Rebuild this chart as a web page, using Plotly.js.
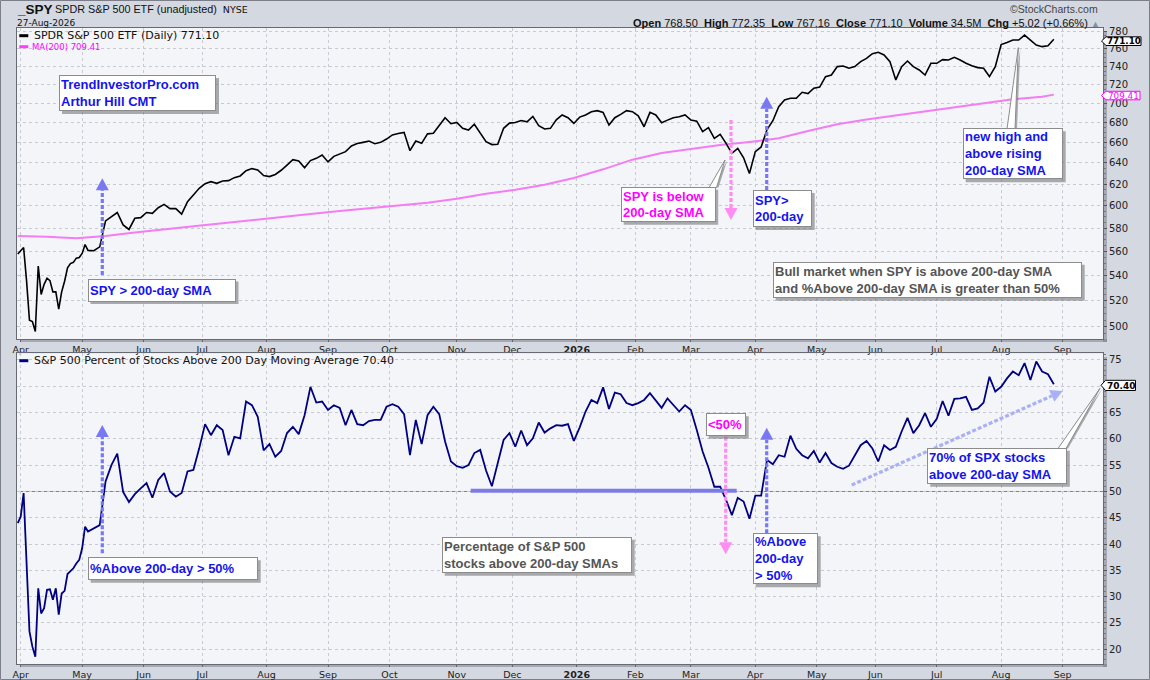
<!DOCTYPE html>
<html><head><meta charset="utf-8">
<script src="https://cdn.plot.ly/plotly-3.0.1.min.js"></script>
<style>html,body{margin:0;padding:0;background:#d4d8e1;}#chart{width:1150px;height:680px;}</style>
</head><body><div id="chart"></div>
<script>
// ================= DATA =================
const calendarStart = '2025-03-31';
const calendarEnd = '2026-09-30';
const lastDate = '2026-08-27';
const marketHolidays = ['2025-04-18','2025-05-26','2025-06-19','2025-07-04','2025-09-01','2025-11-27','2025-12-25',
  '2026-01-01','2026-01-19','2026-02-16','2026-04-03','2026-05-25','2026-06-19','2026-07-03','2026-09-07'];
const dailyReadDays = 24;   // first 24 sessions read daily, then every 2nd session
const maReadStep = 10;      // MA(200) read every 10th session

const monthLabels = ['Apr','May','Jun','Jul','Aug','Sep','Oct','Nov','Dec','<b>2026</b>','Feb','Mar','Apr','May','Jun','Jul','Aug','Sep'];
const priceTicks = [500,520,540,560,580,600,620,640,660,680,700,720,740,760,780];
const pctTicks = [20,25,30,35,40,45,50,55,60,65,70,75];
const pctTickText = ['20','25','30','35','40','45','50','55','60','65','','75']; // 70 sits under the 70.40 value tag

const spyClose = [
  558, 561, 563.5, 536, 505, 504, 496.5, 548, 525, 533, 538, 536, 527, 527, 513.5, 527, 535.5, 546.5, 550, 551, 554.5, 555, 558.5, 566,
  561, 560.7, 564, 586.5, 590, 594, 583, 579, 588.8, 589.4, 594, 593.2, 598.3, 601.3, 597.5, 597.5, 592.5, 603.7, 609.8, 616, 620.3,
  622.2, 620.7, 622.8, 623.2, 626, 627.6, 632.6, 634.6, 633.3, 628, 627, 629, 633, 638, 643.2, 642, 635.5, 642.3, 644.5, 647.7, 641,
  646.4, 648.4, 651, 656.6, 659, 660.2, 661.5, 658.9, 660.2,
  663.5, 667.6, 669, 670.2, 652, 661.5, 659.2, 668.7, 669.4, 677.7, 685.2, 679, 680.3, 674.4, 672.6, 678.4, 669.4, 660.9, 658, 658.3,
  674.3, 679.6, 680.3, 682.3, 681, 686.5, 677, 673.6, 674.3, 683, 688, 685.2, 679.3, 685.8, 688, 691.4, 692.5, 690.7, 677.7, 685.2,
  688.6, 692.5, 691.4, 687.2, 675.9, 690.7, 688, 680, 682.7, 685.2, 686.2, 688, 682.7, 681.6, 670.9, 675, 664.2, 668.2, 659.2, 649.4,
  654.2, 645, 630,
  651, 655.6, 673, 682.1, 696.7, 703.7, 705.5, 705.5, 711.9, 710.5, 716.3, 717.6, 728.9, 730.7, 740, 740.7, 738.2, 740, 745.6, 749.3,
  754.6, 756.2, 753.1, 745.6, 725.3, 740, 746.3, 740, 736.3, 730.7, 743.7, 743.7, 747.8, 747.4, 750.4, 747.4, 743.7, 741, 738.9, 738.2,
  729, 740, 765, 767.5, 770.2, 770.2, 776, 770.2, 764.5, 762.6, 763.7, 771.1
];

const pctAbove200 = [
  44, 45.2, 49.7, 37, 23.4, 20.5, 18.6, 31.6, 26.8, 27.8, 31.3, 31.4, 29.4, 31.6, 26.6, 30.6, 31.1, 34.3, 34.8, 35.4, 36.3, 37, 39.2, 43.3,
  42.4, 43.0, 43.6, 51.9, 55.0, 57.2, 49.9, 48.0, 49.5, 50.6, 51.6, 48.8, 52.2, 53.5, 50.0, 49.0, 49.7, 53.8, 54.1, 58.2, 62.8, 60.7,
  62.6, 61.7, 56.9, 60.4, 60.1, 67.1, 66.4, 64.2, 57.8, 59.0, 56.6, 57.7, 61.1, 62.3, 60.9, 64.5, 69.9, 66.9, 67.1, 65.5, 66.4, 65.9,
  62.6, 65.5, 62.8, 62.6, 63.4, 63.6, 63.6,
  66.1, 66.6, 66.1, 64.7, 56.9, 63.6, 59.0, 64.5, 66.1, 64.7, 59.5, 55.7, 54.8, 54.5, 55.0, 57.3, 57.9, 54.0, 51.0, 55.5, 59.8, 61.1,
  58.5, 61.6, 58.8, 60.1, 63.1, 61.2, 62.0, 62.6, 62.5, 62.8, 59.6, 62.2, 65.2, 67.4, 66.8, 69.8, 65.7, 68.8, 68.5, 66.8, 66.4, 66.8,
  67.4, 68.7, 67.4, 65.9, 67.7, 66.4, 65.2, 66.4, 65.5, 61.7, 57.6, 54.5, 50.9, 50.9, 48.4, 45.5, 48.8, 48.1, 44.8,
  49.2, 49.2, 56.0, 55.2, 56.9, 56.6, 60.6, 58.1, 56.9, 56.3, 57.7, 55.5, 57.3, 55.4, 54.7, 54.3, 54.9, 56.9, 58.8, 59.6, 58.2, 55.7,
  58.8, 57.9, 58.5, 61.4, 64.0, 61.1, 62.6, 64.9, 62.3, 63.8, 67.2, 64.4, 67.6, 67.7, 68.0, 65.5, 65.8, 66.9, 71.8, 69.0, 69.9, 71.5,
  72.8, 72.1, 74.4, 71.2, 74.7, 72.8, 72.3, 70.4
];

const ma200 = [
  573.3, 572.7, 571.3, 573.3, 576.4, 579.3, 581.8, 584.4, 587.3, 590, 592.7, 595.3, 597.7, 599.8, 602.7, 606.5, 611, 614.8, 619.4,
  625.6, 633.9, 643.2, 649.7, 653.6, 657.6, 660.6, 664.2, 671.6, 678.4, 683.4, 687.6, 691.7, 696, 699.8, 704.4, 707.2, 709.41
];

// ================= CALENDAR (trading sessions) =================
const tradingDays = (() => {
  const out = [], hol = new Set(marketHolidays);
  const d = new Date(calendarStart + 'T00:00:00Z'), end = new Date(calendarEnd + 'T00:00:00Z');
  while (d <= end) {
    const wd = d.getUTCDay(), s = d.toISOString().slice(0, 10);
    if (wd !== 0 && wd !== 6 && !hol.has(s)) out.push(s);
    d.setUTCDate(d.getUTCDate() + 1);
  }
  return out;
})();
const lastIdx = tradingDays.indexOf(lastDate);
const sampleIdx = [];
for (let i = 0; i < dailyReadDays; i++) sampleIdx.push(i);
for (let i = dailyReadDays; i <= lastIdx; i += 2) sampleIdx.push(i);
const maIdx = [];
for (let i = 0; i <= lastIdx; i += maReadStep) maIdx.push(i);
if (maIdx[maIdx.length - 1] !== lastIdx) maIdx.push(lastIdx);
const monthTickIdx = [];
for (let i = 1; i < tradingDays.length; i++)
  if (tradingDays[i].slice(0, 7) !== tradingDays[i - 1].slice(0, 7)) monthTickIdx.push(i);

// ================= LAYOUT HELPERS =================
const W = 1150, H = 680, ML = 17, MR = 47, MT = 28, MB = 16;
const PW = W - ML - MR, PH = H - MT - MB;
const PX = px => (px - ML) / PW;
const PY = py => (H - MB - py) / PH;
const shapes = [], annotations = [];
const BLUE = '#1414ee', MAG = '#ff00ff', GRAY = '#555555';
const ARROW_BLUE = '#7878f2', ARROW_PINK = '#ff8cf0', ARROW_LIGHT = '#aab0f6';

function rectPx(x0, y0, x1, y1, fill, layer) {
  shapes.push({type: 'rect', xref: 'paper', yref: 'paper', x0: PX(x0), x1: PX(x1), y0: PY(y1), y1: PY(y0),
    fillcolor: fill, line: {width: 0}, layer: layer || 'above'});
}
function pathPx(pts, fill, lineColor, lw) {
  const p = pts.map((q, k) => (k ? 'L' : 'M') + PX(q[0]) + ',' + PY(q[1])).join(' ') + ' Z';
  shapes.push({type: 'path', xref: 'paper', yref: 'paper', path: p, fillcolor: fill,
    line: {color: lineColor || fill, width: lw === undefined ? 0 : lw}, layer: 'above'});
}
function dashedArrow(x0, y0, x1, y1, color, head) {
  const dx = x1 - x0, dy = y1 - y0, L = Math.hypot(dx, dy), ux = dx / L, uy = dy / L;
  const hl = 12, hw = 6.5, bx = x1 - ux * hl, by = y1 - uy * hl;
  shapes.push({type: 'line', xref: 'paper', yref: 'paper', x0: PX(x0), y0: PY(y0), x1: PX(bx), y1: PY(by),
    line: {color: color, width: 3.2, dash: '4px,2px'}, layer: 'above'});
  pathPx([[x1, y1], [bx - uy * hw, by + ux * hw], [bx + uy * hw, by - ux * hw]], head || color);
}
function box(left, top, w, h, text, color) {
  rectPx(left + 3, top + 3, left + w + 3, top + h + 3, 'rgba(105,105,110,0.55)');
  annotations.push({xref: 'paper', yref: 'paper', x: PX(left), y: PY(top), xanchor: 'left', yanchor: 'top',
    width: w - 4, height: h - 4, align: 'left', valign: 'middle', text: text, showarrow: false,
    bgcolor: '#ffffff', bordercolor: '#8c8c8c', borderwidth: 1, borderpad: 1,
    font: {family: 'Liberation Sans, Arial, sans-serif', size: 13, color: color}});
}
function pointer(a, b, tip) {
  pathPx([[a[0] + 2, a[1]], [b[0] + 2, b[1]], [tip[0] + 2, tip[1] + 1]], 'rgba(105,105,110,0.55)');
  pathPx([a, b, tip], '#ffffff', '#8c8c8c', 1);
}
function text(x, y, t, size, color, family, anchor) {
  annotations.push({xref: 'paper', yref: 'paper', x: PX(x), y: PY(y), xanchor: anchor || 'left', yanchor: 'middle',
    text: t, showarrow: false, font: {family: family || 'DejaVu Sans', size: size, color: color}});
}

// panel shadows
rectPx(1103, 31, 1107, 342, 'rgba(110,112,125,0.45)', 'below');
rectPx(20, 339, 1107, 342, 'rgba(110,112,125,0.45)', 'below');
rectPx(1103, 357, 1107, 667, 'rgba(110,112,125,0.45)', 'below');
rectPx(20, 664, 1107, 667, 'rgba(110,112,125,0.45)', 'below');

// 50% reference line & support line
shapes.push({type: 'line', xref: 'x2 domain', yref: 'y2', x0: 0, x1: 1, y0: 50, y1: 50, line: {color: '#76838f', width: 1}, layer: 'below'});
shapes.push({type: 'line', xref: 'paper', yref: 'paper', x0: PX(470.7), x1: PX(736.7), y0: PY(490.7), y1: PY(490.7),
  line: {color: '#7c7ce6', width: 4}, layer: 'above'});

// arrows
dashedArrow(102.3, 275, 102.3, 178.3, ARROW_BLUE);
dashedArrow(731, 120, 731, 220, ARROW_PINK);
dashedArrow(766.7, 190, 766.7, 96.7, ARROW_BLUE);
dashedArrow(102.3, 553.3, 102.3, 425, ARROW_BLUE);
dashedArrow(725.7, 436.7, 725.7, 554.3, ARROW_PINK);
dashedArrow(766.7, 533.3, 766.7, 427.7, ARROW_BLUE);
dashedArrow(851.7, 485, 1062.7, 391, ARROW_LIGHT);

// callout pointers
pointer([709, 187.6], [716.5, 187.6], [725, 160]);
pointer([1007, 129], [1015, 129], [1018.3, 47.7]);
pointer([1058, 448.5], [1066, 448.5], [1100, 388.3]);

// boxes
box(59, 75, 157, 36, '<b>TrendInvestorPro.com<br>Arthur Hill CMT</b>', BLUE);
box(87.5, 278.5, 148, 22.5, '<b>SPY &gt; 200-day SMA</b>', BLUE);
box(620.7, 186.7, 94.5, 35, '<b>SPY is below<br>200-day SMA</b>', MAG);
box(752.7, 190, 59, 37, '<b>SPY&gt;<br>200-day</b>', BLUE);
box(962.7, 128.3, 100, 51, '<b>new high and<br>above rising<br>200-day SMA</b>', BLUE);
box(772.7, 261.7, 309, 36, '<b>Bull market when SPY is above 200-day SMA<br>and %Above 200-day SMA is greater than 50%</b>', GRAY);
box(87.7, 557.3, 170, 22.5, '<b>%Above 200-day &gt; 50%</b>', BLUE);
box(441.7, 536.7, 190, 36, '<b>Percentage of S&amp;P 500<br>stocks above 200-day SMAs</b>', GRAY);
box(705.7, 413.3, 40, 22.5, '<b>&lt;50%</b>', MAG);
box(752.7, 533.3, 65, 51, '<b>%Above<br>200-day<br>&gt; 50%</b>', BLUE);
box(927.3, 447.7, 139.5, 36, '<b>70% of SPX stocks<br>above 200-day SMA</b>', BLUE);

// legends inside panels
shapes.push({type: 'line', xref: 'paper', yref: 'paper', x0: PX(19.3), x1: PX(28.3), y0: PY(35.7), y1: PY(35.7), line: {color: '#000', width: 3}});
shapes.push({type: 'line', xref: 'paper', yref: 'paper', x0: PX(19.3), x1: PX(28.3), y0: PY(46.7), y1: PY(46.7), line: {color: '#ff3cff', width: 3}});
shapes.push({type: 'line', xref: 'paper', yref: 'paper', x0: PX(19.3), x1: PX(28.3), y0: PY(360.7), y1: PY(360.7), line: {color: '#000080', width: 3}});
text(31.5, 35.7, 'SPDR S&amp;P 500 ETF (Daily) 771.10', 11, '#111');
text(29.5, 46.7, 'MA(200) 709.41', 8.5, '#ff00ff');
text(31.5, 360.7, 'S&amp;P 500 Percent of Stocks Above 200 Day Moving Average 70.40', 11, '#111');

// header
text(15, 9.5, '<b>_SPY</b>', 13.5, '#111', 'Liberation Sans, Arial');
text(52.7, 8.8, 'SPDR S&amp;P 500 ETF (unadjusted)&nbsp; <span style="font-family:DejaVu Sans;font-size:9.5px">NYSE</span>', 10.8, '#111', 'Liberation Sans, Arial');
text(15, 22.7, '27-Aug-2026', 9, '#111');
text(1100, 9.3, '©StockCharts.com', 10.5, '#444', 'Liberation Sans, Arial', 'right');
text(1102, 22.5, '<b>Open</b> 768.50&nbsp; <b>High</b> 772.35&nbsp; <b>Low</b> 767.16&nbsp; <b>Close</b> 771.10&nbsp; <b>Volume</b> 34.5M&nbsp; <b>Chg</b> +5.02 (+0.66%) <span style="color:#8090a8;font-size:9px">▲</span>',
  11, '#111', 'Liberation Sans, Arial', 'right');

// price tags on right axis (drawn over the axis labels, as in the source chart)
pathPx([[1101.5, 41], [1106, 36.8], [1141, 36.8], [1141, 45.5], [1106, 45.5]], '#ffffff', '#000000', 1);
text(1123.5, 41.2, '<b>771.10</b>', 8.8, '#000', 'DejaVu Sans', 'center');
pathPx([[1101.5, 95.5], [1106, 91.3], [1140, 91.3], [1140, 99.8], [1106, 99.8]], '#ffffff', '#ff00ff', 1);
text(1123, 95.6, '709.41', 8.8, '#ff00ff', 'DejaVu Sans', 'center');
pathPx([[1101, 385.3], [1105.5, 380.3], [1135.5, 380.3], [1135.5, 390.5], [1105.5, 390.5]], '#ffffff', '#000000', 1);
text(1120.5, 385.6, '<b>70.40</b>', 9, '#000', 'DejaVu Sans', 'center');

// outer frame
shapes.push({type: 'rect', xref: 'paper', yref: 'paper', x0: PX(0.5), x1: PX(1149.5), y0: PY(679.5), y1: PY(0.5),
  line: {color: '#7b7e88', width: 1}, fillcolor: 'rgba(0,0,0,0)', layer: 'below'});

// ================= TRACES =================
const traces = [
  {x: maIdx, y: ma200, type: 'scatter', mode: 'lines', xaxis: 'x', yaxis: 'y', name: 'MA(200)',
   line: {color: '#f47cf4', width: 2}, customdata: maIdx.map(i => tradingDays[i]), hovertemplate: '%{customdata}: %{y}<extra></extra>'},
  {x: sampleIdx, y: spyClose, type: 'scatter', mode: 'lines', xaxis: 'x', yaxis: 'y', name: 'SPY',
   line: {color: '#000000', width: 1.6}, customdata: sampleIdx.map(i => tradingDays[i]), hovertemplate: '%{customdata}: %{y}<extra></extra>'},
  {x: sampleIdx, y: pctAbove200, type: 'scatter', mode: 'lines', xaxis: 'x2', yaxis: 'y2', name: '% above 200-day',
   line: {color: '#000080', width: 1.8}, customdata: sampleIdx.map(i => tradingDays[i]), hovertemplate: '%{customdata}: %{y}<extra></extra>'}
];

const xRange = [-0.26, 370.8];
const gridStyle = {showgrid: true, gridcolor: '#c7cad2', griddash: '3px,3px', gridwidth: 1};
const xBase = Object.assign({
  range: xRange, tickmode: 'array', tickvals: monthTickIdx, ticktext: monthLabels,
  showline: true, mirror: true, linecolor: '#666a72', linewidth: 1,
  ticks: 'outside', ticklen: 2, tickcolor: '#666', zeroline: false, fixedrange: true,
  tickfont: {family: 'DejaVu Sans', size: 9.5, color: '#222'}
}, gridStyle);
const yBase = Object.assign({
  side: 'right', showline: true, mirror: true, linecolor: '#666a72', linewidth: 1,
  ticks: 'outside', ticklen: 3, tickcolor: '#555', zeroline: false, fixedrange: true,
  tickfont: {family: 'DejaVu Sans', size: 10, color: '#222'}
}, gridStyle);

const minorPrice = [];
for (let v = 495; v <= 785; v += 5) minorPrice.push(v);

const layout = {
  width: W, height: H,
  margin: {l: ML, r: MR, t: MT, b: MB, pad: 0},
  paper_bgcolor: '#d4d8e1', plot_bgcolor: '#f4f5f9',
  showlegend: false,
  xaxis: Object.assign({}, xBase, {anchor: 'y', domain: [0, 1]}),
  xaxis2: Object.assign({}, xBase, {anchor: 'y2', domain: [0, 1]}),
  yaxis: Object.assign({}, yBase, {type: 'log', anchor: 'x', domain: [PY(339), 1], range: [2.691, 2.8945],
    tickmode: 'array', tickvals: priceTicks, ticktext: priceTicks.map(String),
    minor: {tickmode: 'array', tickvals: minorPrice, ticks: 'outside', ticklen: 1.5, tickcolor: '#777', showgrid: false}}),
  yaxis2: Object.assign({}, yBase, {anchor: 'x2', domain: [0, PY(353.3)], range: [17.2, 76.27],
    tickmode: 'array', tickvals: pctTicks, ticktext: pctTickText,
    minor: {dtick: 1, ticks: 'outside', ticklen: 1.5, tickcolor: '#777', showgrid: false}}),
  shapes: shapes, annotations: annotations
};

Plotly.newPlot('chart', traces, layout, {staticPlot: true, displayModeBar: false});
</script></body></html>
